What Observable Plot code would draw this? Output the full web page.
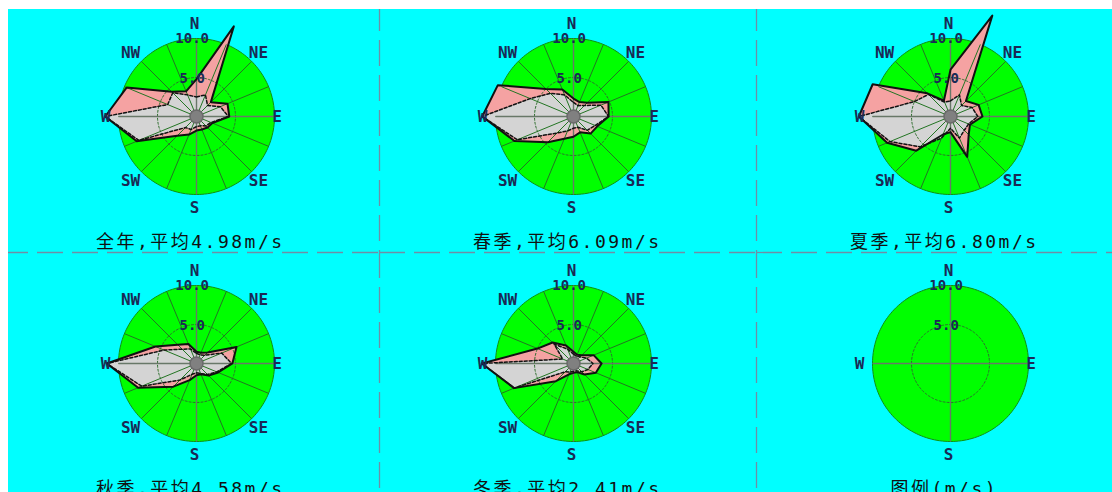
<!DOCTYPE html>
<html><head><meta charset="utf-8">
<script src="https://cdn.jsdelivr.net/npm/d3@7"></script>
<script src="https://cdn.jsdelivr.net/npm/@observablehq/plot@0.6"></script>
<style>
html,body{margin:0;padding:0;background:#fff;overflow:hidden;width:1112px;height:492px;}
#wrap{position:absolute;left:8px;top:9px;width:1104px;height:483px;overflow:hidden;background:#00ffff;}
#wrap svg{position:absolute;left:-6px;top:-4px;max-width:none !important;}
</style></head><body><div id="wrap"></div>
<script>
// ---------------- data ----------------
const directions = ["N","NNE","NE","ENE","E","ESE","SE","SSE","S","SSW","SW","WSW","W","WNW","NW","NNW"];
const panelNames = ["全年","春季","夏季","秋季","冬季"];
const meanSpeeds = [4.98, 6.09, 6.80, 4.58, 2.41];
const legendTitle = "图例(m/s)";
const ringTicks = [5, 10];
const compassLabels = ["N","NE","E","SE","S","SW","W","NW"];
const legendCompass = ["N","E","S","W"];

// pink rose (solid outline) and gray rose (dashed outline), 16 directions N..NNW
const freqAnnual  = [4.8, 12.5, 2.6, 4.3, 4.2, 2.2, 2.0, 1.8, 1.8, 2.5, 3.5, 8.3, 11.7, 9.7, 4.5, 3.5];
const speedAnnual = [2.5, 3.0, 2.0, 3.3, 4.1, 2.0, 1.7, 1.3, 1.3, 1.8, 2.0, 8.0, 11.7, 4.0, 4.3, 3.0];
const freqSpring  = [2.3, 2.0, 2.5, 4.85, 4.5, 3.3, 3.1, 2.2, 2.6, 3.1, 4.65, 8.2, 11.7, 10.5, 5.0, 3.75];
const speedSpring = [1.8, 1.5, 2.0, 3.8, 4.5, 3.0, 2.5, 1.5, 1.5, 2.0, 3.0, 7.8, 11.7, 6.0, 4.2, 3.0];
const freqSummer  = [6.0, 14.0, 2.8, 3.9, 4.1, 2.7, 3.3, 5.6, 2.0, 2.5, 6.2, 8.8, 11.75, 10.8, 4.2, 2.2];
const speedSummer = [2.0, 3.0, 2.0, 3.0, 3.5, 2.5, 2.5, 3.0, 1.5, 3.0, 5.5, 8.4, 11.75, 5.0, 4.0, 2.0];
const freqAutumn  = [1.5, 1.5, 2.0, 5.55, 4.6, 3.0, 2.2, 1.5, 1.5, 2.3, 4.2, 8.1, 11.5, 5.7, 3.4, 2.7];
const speedAutumn = [1.3, 1.2, 1.5, 3.5, 4.5, 2.8, 2.0, 1.4, 1.2, 1.5, 3.0, 7.6, 11.5, 4.5, 2.6, 2.0];
const freqWinter  = [1.5, 1.2, 1.5, 2.8, 3.6, 3.1, 2.0, 1.2, 1.2, 1.5, 3.2, 8.25, 11.75, 5.0, 3.8, 2.5];
const speedWinter = [1.2, 1.0, 1.2, 1.8, 2.5, 2.0, 1.5, 1.0, 1.0, 1.2, 1.5, 8.2, 11.75, 1.5, 3.5, 2.0];

// ---------------- layout ----------------
const K = 7.8;            // px per unit
const PW = 377, PH = 247; // panel size
const CX = 194, CY = 111; // rose centre inside a panel
const nPanels = 6;
const panelPos = p => ({p, col: p % 3, row: Math.floor(p / 3)});
const angleOf = name => directions.indexOf(name) * Math.PI / 8;
const polar = (v, a) => [v * Math.sin(a), v * Math.cos(a)];
const xDomain = [-CX / K, (PW - CX) / K];
const yDomain = [-(PH - CY) / K, CY / K];

const freqSeries = [freqAnnual, freqSpring, freqSummer, freqAutumn, freqWinter];
const speedSeries = [speedAnnual, speedSpring, speedSummer, speedAutumn, speedWinter];

function rosePoints(series) {
  return series.flatMap((vals, p) => vals.map((v, i) => {
    const [x, y] = polar(v, i * Math.PI / 8);
    return {...panelPos(p), x, y, dir: directions[i], v};
  }));
}
const freqPts = rosePoints(freqSeries);
const speedPts = rosePoints(speedSeries);

function ringPts(r) {
  const out = [];
  for (let p = 0; p < nPanels; p++)
    for (let k = 0; k < 180; k++) {
      const [x, y] = polar(r, k * Math.PI / 90);
      out.push({...panelPos(p), x, y});
    }
  return out;
}
const outerR = d3.max(ringTicks);
const diskPts = ringPts(outerR);
const innerRingPts = ringPts(ringTicks[0]);

const spokes = [];
for (let p = 0; p < 5; p++)
  directions.forEach((d, i) => {
    const [x, y] = polar(outerR, i * Math.PI / 8);
    spokes.push({...panelPos(p), x, y});
  });
const axesLines = [];
for (let p = 0; p < nPanels; p++) {
  axesLines.push({...panelPos(p), x1: -outerR, y1: 0, x2: outerR, y2: 0});
  axesLines.push({...panelPos(p), x1: 0, y1: -outerR, x2: 0, y2: outerR});
}
const centers = d3.range(5).map(panelPos);

// panel separators
const vSeps = d3.range(nPanels).map(panelPos).filter(d => d.col < 2);
const hSeps = d3.range(nPanels).map(panelPos).filter(d => d.row < 1);

const labelR = {N: 11.9, S: 11.7, E: 10.6, W: 11.4, NE: 11.6, SE: 11.6, SW: 11.6, NW: 11.6};
const compassText = [];
for (let p = 0; p < nPanels; p++)
  (p < 5 ? compassLabels : legendCompass).forEach(name => {
    const [x, y] = polar(labelR[name], angleOf(name));
    compassText.push({...panelPos(p), x, y, text: name});
  });
const tickText = [];
for (let p = 0; p < nPanels; p++)
  ringTicks.forEach(t => tickText.push({...panelPos(p), x: -0.3, y: t - (t === outerR ? 0 : 0.1), text: t.toFixed(1)}));
const titles = d3.range(nPanels).map(p => ({...panelPos(p), x: -0.8, y: -16.15,
  text: p < 5 ? `${panelNames[p]},平均${meanSpeeds[p].toFixed(2)}m/s` : legendTitle}));

const labelFont = "DejaVu Sans Mono";
const chart = Plot.plot({
  width: 3 * PW, height: 2 * PH,
  margin: 0,
  style: {background: "transparent", overflow: "visible", maxWidth: "none"},
  fx: {domain: [0, 1, 2], axis: null, padding: 0},
  fy: {domain: [0, 1], axis: null, padding: 0},
  x: {domain: xDomain, axis: null},
  y: {domain: yDomain, axis: null},
  marks: [
    Plot.ruleX(vSeps, {x: () => xDomain[1], fx: "col", fy: "row", stroke: "#6f8ea6", strokeWidth: 1.3, strokeDasharray: "26,9"}),
    Plot.ruleY(hSeps, {y: () => yDomain[0], fx: "col", fy: "row", stroke: "#6f8ea6", strokeWidth: 1.3, strokeDasharray: "26,9"}),
    Plot.line(diskPts, {x: "x", y: "y", fx: "col", fy: "row", z: "p", curve: "linear-closed", fill: "#00ff00", stroke: "#109010", strokeWidth: 1}),
    Plot.line(freqPts, {x: "x", y: "y", fx: "col", fy: "row", z: "p", curve: "linear-closed", fill: "#f5a2a2", stroke: "none"}),
    Plot.line(speedPts, {x: "x", y: "y", fx: "col", fy: "row", z: "p", curve: "linear-closed", fill: "#d4d4d4", stroke: "none"}),
    Plot.link(spokes, {x1: 0, y1: 0, x2: "x", y2: "y", fx: "col", fy: "row", stroke: "#237523", strokeWidth: 1}),
    Plot.line(innerRingPts, {x: "x", y: "y", fx: "col", fy: "row", z: "p", curve: "linear-closed", fill: "none", stroke: "#2e6e2e", strokeWidth: 1, strokeDasharray: "2,2"}),
    Plot.link(axesLines, {x1: "x1", y1: "y1", x2: "x2", y2: "y2", fx: "col", fy: "row", stroke: "#687868", strokeWidth: 1.4}),
    Plot.line(speedPts, {x: "x", y: "y", fx: "col", fy: "row", z: "p", curve: "linear-closed", fill: "none", stroke: "#111", strokeWidth: 1.5, strokeDasharray: "3,2"}),
    Plot.line(freqPts, {x: "x", y: "y", fx: "col", fy: "row", z: "p", curve: "linear-closed", fill: "none", stroke: "#111", strokeWidth: 2}),
    Plot.dot(centers, {x: () => 0, y: () => 0, fx: "col", fy: "row", r: 6.5, fill: "#808080", stroke: "#6a6a6a"}),
    Plot.text(tickText, {x: "x", y: "y", text: "text", fx: "col", fy: "row", dx: -2, fontFamily: labelFont, fontSize: 14, fontWeight: "bold", fill: "#1a2a55"}),
    Plot.text(compassText, {x: "x", y: "y", text: "text", fx: "col", fy: "row", dx: -2, fontFamily: labelFont, fontSize: 16, fontWeight: "bold", fill: "#1a2a55"}),
    Plot.text(titles, {x: "x", y: "y", text: "text", fx: "col", fy: "row", fontFamily: "DejaVu Sans Mono, Noto Sans CJK SC", fontSize: 18, fill: "#111", className: "rose-title"})
  ]
});
d3.select(chart).selectAll('.rose-title text, text.rose-title').style("letter-spacing", "2.5px");
document.getElementById("wrap").appendChild(chart);
</script></body></html>
